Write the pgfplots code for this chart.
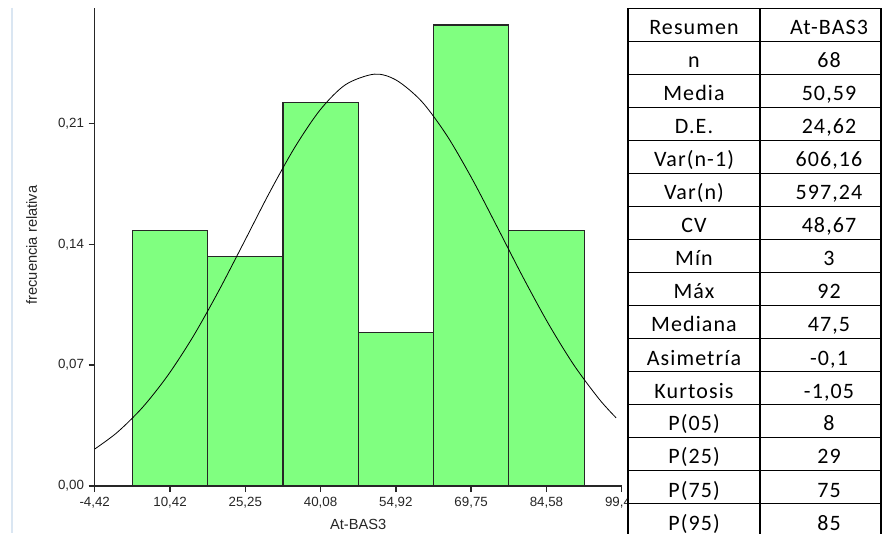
\documentclass[border=0pt]{standalone}
\usepackage{pgfplots}
\pgfplotsset{compat=1.18}
\usepackage{fontspec}
\setmainfont{Liberation Sans}
\newfontfamily\tabfont[LetterSpace=5]{Carlito}

\definecolor{barfill}{RGB}{128,255,128}
\definecolor{frameblue}{RGB}{218,230,242}

% one table row: index, left cell, right cell (pixel units, y down)
\newcommand\row[3]{%
  \node[tabtxt] at (694,{8.5+33*#1+26.5}) {#2};
  \node[tabtxt] at (829,{8.5+33*#1+26.5}) {#3};}

\begin{document}
\begin{tikzpicture}
\begin{scope}[x=0.75pt,y=-0.75pt]
  \useasboundingbox (0,0) rectangle (883,533);
  \fill[white] (0,0) rectangle (883,533);
  \draw[frameblue, line width=1.5pt] (12,8) -- (12,533);
\end{scope}

\begin{axis}[
  at={(71.025pt,-364.5pt)}, anchor=south west,
  scale only axis, width=395.25pt, height=358.5pt,
  xmin=-4.42, xmax=99.41, ymin=0, ymax=0.2768,
  axis lines=left, axis line style={-, line width=1.2pt, black!85},
  xtick={-4.42,10.42,25.25,40.08,54.92,69.75,84.58,99.41},
  xticklabels={{-4,42},{10,42},{25,25},{40,08},{54,92},{69,75},{84,58},{99,41}},
  ytick={0,0.07,0.14,0.21},
  yticklabels={{0,00},{0,07},{0,14},{0,21}},
  tick align=outside, major tick length=4.5pt,
  tick style={line width=1pt, black!85},
  tick label style={font=\fontsize{10}{12}\selectfont, text=black!85},
  xlabel={At-BAS3}, ylabel={frecuencia relativa},
  label style={font=\fontsize{11}{13}\selectfont, text=black!85},
  xlabel style={at={(axis description cs:0.5,-0.0795)}, anchor=center},
  ylabel style={at={(axis description cs:-0.1195,0.504)}, anchor=center},
]
\addplot[ybar interval, fill=barfill, draw=black!85, line width=0.9pt] coordinates
  {(3,0.148)(17.833,0.133)(32.667,0.222)(47.5,0.089)(62.333,0.267)(77.167,0.148)(92,0.148)};
\addplot[smooth, black, line width=0.6pt] coordinates
  {(-4.42,0.0214)(0,0.0310)(5,0.0455)(10,0.0641)(15,0.0867)(20,0.1129)
   (25,0.1412)(30,0.1698)(35,0.1961)(40,0.2178)(45,0.2324)(50.7,0.2385)
   (55,0.2350)(60,0.2227)(65,0.2028)(70,0.1775)(75,0.1493)(80,0.1207)
   (85,0.0938)(90,0.0700)(95,0.0502)(98.3,0.0395)};
\end{axis}

\begin{scope}[x=0.75pt,y=-0.75pt,
  tabtxt/.style={anchor=base, inner sep=0pt, font=\tabfont\fontsize{16.5}{19}\selectfont}]
  \clip (0,0) rectangle (883,533);
  \fill[white] (628,8.5) rectangle (881,545);
  \foreach \k in {0,...,16}
    \draw[line width=1.4pt] (628,{8.5+33*\k}) -- (881,{8.5+33*\k});
  \foreach \xx in {628,760,881}
    \draw[line width=1.4pt] (\xx,8.5) -- (\xx,545);
  \row{0}{Resumen}{At-BAS3}
  \row{1}{n}{68}
  \row{2}{Media}{50,59}
  \row{3}{D.E.}{24,62}
  \row{4}{Var(n-1)}{606,16}
  \row{5}{Var(n)}{597,24}
  \row{6}{CV}{48,67}
  \row{7}{Mín}{3}
  \row{8}{Máx}{92}
  \row{9}{Mediana}{47,5}
  \row{10}{Asimetría}{-0,1}
  \row{11}{Kurtosis}{-1,05}
  \row{12}{P(05)}{8}
  \row{13}{P(25)}{29}
  \row{14}{P(75)}{75}
  \row{15}{P(95)}{85}
\end{scope}
\end{tikzpicture}
\end{document}
